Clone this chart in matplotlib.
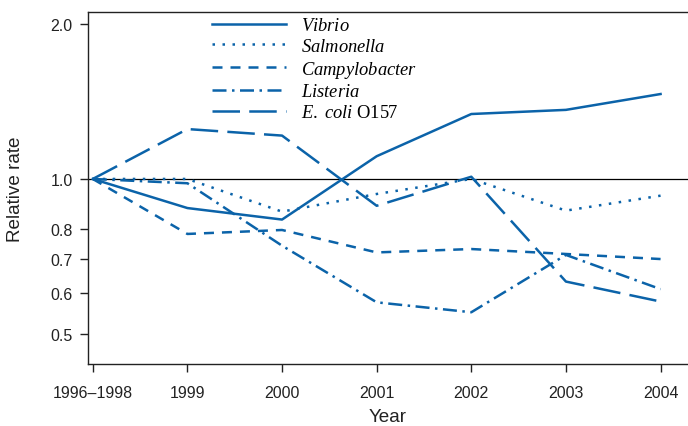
import matplotlib
matplotlib.use("Agg")
import matplotlib.pyplot as plt
from matplotlib.ticker import FixedLocator, FixedFormatter, NullLocator

years = ["1996\u20131998", "1999", "2000", "2001", "2002", "2003", "2004"]
vibrio = [1.0, 0.878, 0.834, 1.107, 1.337, 1.362, 1.462]
salmonella = [1.0, 1.0, 0.864, 0.935, 1.0, 0.868, 0.928]
campylobacter = [1.0, 0.782, 0.796, 0.72, 0.731, 0.715, 0.699]
listeria = [1.0, 0.981, 0.742, 0.576, 0.551, 0.712, 0.611]
ecoli = [1.0, 1.25, 1.214, 0.887, 1.01, 0.632, 0.578]

plt.rcParams["font.family"] = "Liberation Sans"
plt.rcParams["mathtext.fontset"] = "custom"
plt.rcParams["mathtext.it"] = "Liberation Serif:italic"
plt.rcParams["mathtext.rm"] = "Liberation Serif"

azul = "#0b63a9"
fig = plt.figure(figsize=(6.88, 4.27), dpi=100)
ax = fig.add_axes([0.128, 0.145, 0.872, 0.8246])

x = range(len(years))
lw = 1.8
ax.plot(x, vibrio, color=azul, lw=lw, ls="-", label=r"$\mathit{Vibrio}$")
ax.plot(x, salmonella, color=azul, lw=lw, ls=(0, (1, 3)), label=r"$\mathit{Salmonella}$")
ax.plot(x, campylobacter, color=azul, lw=lw, ls=(0, (4, 3.2)), label=r"$\mathit{Campylobacter}$")
ax.plot(x, listeria, color=azul, lw=lw, ls=(0, (5.6, 2.2, 1, 2.2)), label=r"$\mathit{Listeria}$")
ax.plot(x, ecoli, color=azul, lw=lw, ls=(0, (11, 3.7)), label=r"$\mathit{E.\ coli}$ O157")
ax.axhline(1.0, color="black", lw=0.9, zorder=1)

ax.set_yscale("log")
ax.set_ylim(0.437, 2.11)
ax.set_xlim(-0.05, 6.29)
ticks_y = [0.5, 0.6, 0.7, 0.8, 1.0, 2.0]
ax.yaxis.set_major_locator(FixedLocator(ticks_y))
ax.yaxis.set_major_formatter(FixedFormatter([f"{t:.1f}" for t in ticks_y]))
ax.yaxis.set_minor_locator(NullLocator())
ax.set_xticks(list(x))
ax.set_xticklabels(years)

for s in ["left", "top", "bottom"]:
    ax.spines[s].set_color("#222222")
    ax.spines[s].set_linewidth(1.0)
ax.spines["right"].set_visible(False)
ax.tick_params(axis="both", direction="out", length=6, width=1.0, color="#222222",
               labelsize=11.5, labelcolor="#222222")
ax.tick_params(axis="x", pad=9)
ax.tick_params(axis="y", pad=5)

ax.set_xlabel("Year", fontsize=13.6, color="#222222", labelpad=6)
ax.set_ylabel("Relative rate", fontsize=13.6, color="#222222", labelpad=19)

leg = ax.legend(loc="upper left", bbox_to_anchor=(0.207, 0.985), frameon=False,
                prop={"family": "Liberation Serif", "size": 13.3},
                handlelength=4.0, handletextpad=0.8, labelspacing=0.2,
                borderpad=0, borderaxespad=0)

plt.savefig("out.png", dpi=100)
